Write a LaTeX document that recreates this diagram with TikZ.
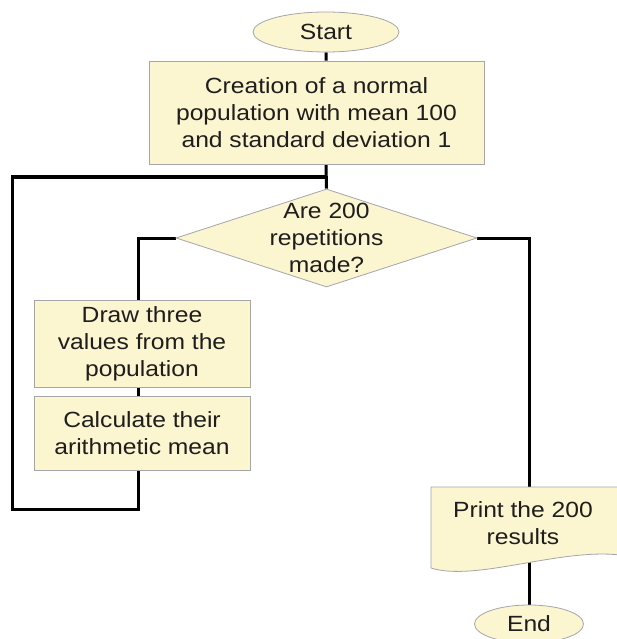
\documentclass[tikz,border=0pt]{standalone}
\usepackage{fontspec}
\setmainfont[FakeStretch = 1.12]{Liberation Sans}
\usetikzlibrary{shapes.geometric,backgrounds}

\definecolor{chartFill}{RGB}{251,245,208}
\definecolor{chartEdge}{RGB}{165,165,170}
\definecolor{chartText}{RGB}{30,30,30}

\def\chartLineWidth{3pt}
\def\chartFont{\fontsize{22}{27}\selectfont}
\def\chartBranchShift{-4pt}

\tikzset{
    chartshape/.style = {fill = chartFill, draw = chartEdge, line width = 0.8pt},
    terminal/.style = {chartshape, ellipse, inner sep = 0pt},
    procbox/.style = {chartshape, rectangle, align = center, inner sep = 0pt},
    decision/.style = {chartshape, diamond, inner sep = 0pt},
    flowline/.style = {line width = \chartLineWidth, black},
}

\begin{document}
\begin{tikzpicture}[x = 1pt, y = -1pt, font = \chartFont, text = chartText]
            \useasboundingbox (0,0) rectangle (617,639);
            %% terminals
            \node [terminal, minimum width = 146, minimum height = 40]
            (start) at (326,32) {Start};
            \node [terminal, minimum width = 109, minimum height = 38]
            (end) at (529,624) {End};
            %% processes
            \node [procbox, minimum width = 335, minimum height = 103]
            (create) at (316.5,112.5) {
                Creation of a normal\\
                population with mean 100\\
                and standard deviation 1
            };
            \node [procbox, minimum width = 216, minimum height = 87]
            (draw) at (142,343.5) {
                Draw three\\
                values from the\\
                population
            };
            \node [procbox, minimum width = 216, minimum height = 74]
            (calc) at (142,433) {
                Calculate their\\
                arithmetic mean
            };
            %% decision
            \node [decision, minimum width = 301, minimum height = 98]
            (dec) at (326.5,238) {};
            \node [align = center] (dectext) at (dec.center) {
                Are 200\\
                repetitions\\
                made?
            };
            %% document
            \draw [chartshape]
            (431,487) -- (620,487)
            -- (620,555)
            .. controls (560,548) and (475,582) .. (431,568)
            -- cycle
            ;
            \node [align = center] (print) at (523,523.5) {
                Print the 200\\
                results
            };
            %% connectors
            \coordinate (loopbot) at (12,509);
            \coordinate (loopjoin) at (326,177);
            \begin{scope}[on background layer]
                \draw [flowline]
                (start.south) -- (start.south |- create.north)
                (start.south |- create.south) -- (dec.north)
                ;
                \draw [flowline] (dec.west) -| ([xshift = \chartBranchShift]draw.north);
                \draw [flowline]
                ([xshift = \chartBranchShift]draw.south)
                -- ([xshift = \chartBranchShift]calc.north)
                ;
                \draw [flowline]
                ([xshift = \chartBranchShift]calc.south) |- (loopbot) |- (loopjoin)
                ;
                \draw [flowline] (dec.east) -| (end.north);
            \end{scope}
\end{tikzpicture}
\end{document}
